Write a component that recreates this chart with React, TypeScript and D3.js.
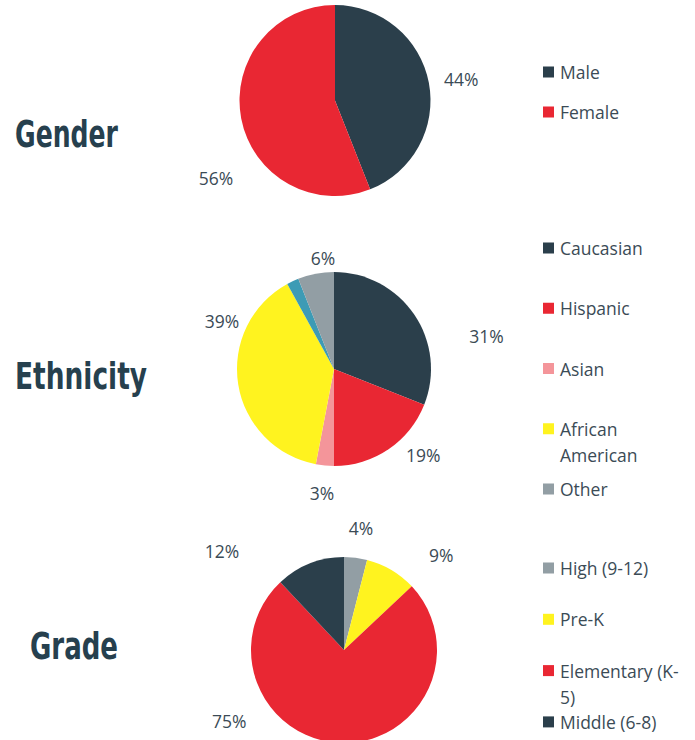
import React from "react";
import * as d3 from "d3";

const genderCategories = ["Male", "Female"];
const genderValues = [44, 56];

const ethnicityCategories = ["Caucasian", "Hispanic", "Asian", "African American", "", "Other"];
const ethnicityValues = [31, 19, 3, 39, 2, 6];

const gradeCategories = ["High (9-12)", "Pre-K", "Elementary (K-5)", "Middle (6-8)"];
const gradeValues = [4, 9, 75, 12];

const genderColors = ["#2b3f4b", "#e92733"];
const ethnicityColors = ["#2b3f4b", "#e92733", "#f4959a", "#fff31f", "#3d9bb5", "#929ea4"];
const gradeColors = ["#929ea4", "#fff31f", "#e92733", "#2b3f4b"];

const legendLines: Record<string, string[]> = {
  "African American": ["African", "American"],
  "Elementary (K-5)": ["Elementary (K-", "5)"],
};

// Data-label placement (best-fit style): polar angle in degrees from 12 o'clock, distance from centre
const genderLabelPolar = [[80.5, 128], [237, 142]];
const ethnicityLabelPolar = [[77.8, 156], [134, 124], [185.5, 125], [293.2, 122], null, [354.3, 111.5]];
const gradeLabelPolar = [[7.9, 123], [45.6, 136], [238.3, 135], [309, 157]];

type ChartCfg = {
  title: string;
  titleX: number;
  titleWidth: number;
  titleY: number;
  categories: string[];
  values: number[];
  colors: string[];
  labelPolar: (number[] | null)[];
  cx: number;
  cy: number;
  r: number;
  legendY0: number;
  legendStep: number;
};

const charts: ChartCfg[] = [
  { title: "Gender", titleX: 15, titleWidth: 103, titleY: 147, categories: genderCategories, values: genderValues, colors: genderColors, labelPolar: genderLabelPolar, cx: 335, cy: 100.5, r: 95.5, legendY0: 72, legendStep: 40 },
  { title: "Ethnicity", titleX: 15, titleWidth: 132, titleY: 389, categories: ethnicityCategories, values: ethnicityValues, colors: ethnicityColors, labelPolar: ethnicityLabelPolar, cx: 334, cy: 369, r: 97, legendY0: 248, legendStep: 60.25 },
  { title: "Grade", titleX: 30, titleWidth: 88, titleY: 659, categories: gradeCategories, values: gradeValues, colors: gradeColors, labelPolar: gradeLabelPolar, cx: 344, cy: 650, r: 93, legendY0: 568, legendStep: 51.3 },
];

const textColor = "#3b4b56";
const font = "'Open Sans', sans-serif";

function PieChart({ cfg }: { cfg: ChartCfg }) {
  const pie = d3.pie<number>().sort(null).value((d) => d)(cfg.values);
  const arc = d3.arc<d3.PieArcDatum<number>>().innerRadius(0).outerRadius(cfg.r);
  const legendItems = cfg.categories
    .map((c, i) => ({ c, i }))
    .filter((d) => d.c !== "");
  return (
    <g>
      <text
        x={cfg.titleX}
        y={cfg.titleY}
        fontFamily="'DejaVu Sans', sans-serif"
        fontWeight={700}
        fontSize={38}
        fill="#26404e"
        textLength={cfg.titleWidth}
        lengthAdjust="spacingAndGlyphs"
      >
        {cfg.title}
      </text>
      <g transform={`translate(${cfg.cx},${cfg.cy})`}>
        {pie.map((p, i) => (
          <path key={i} d={arc(p) || ""} fill={cfg.colors[i]} />
        ))}
        {pie.map((p, i) => {
          const lp = cfg.labelPolar[i];
          if (cfg.categories[i] === "" || !lp) return null;
          const a = (lp[0] * Math.PI) / 180;
          const x = Math.sin(a) * lp[1];
          const y = -Math.cos(a) * lp[1];
          return (
            <text
              key={"l" + i}
              x={x}
              y={y}
              textAnchor="middle"
              dominantBaseline="central"
              fontFamily={font}
              fontSize={17.5}
              fill={textColor}
            >
              {`${cfg.values[i]}%`}
            </text>
          );
        })}
      </g>
      {legendItems.map(({ c, i }, k) => {
        const y = cfg.legendY0 + k * cfg.legendStep;
        const lines = legendLines[c] || [c];
        return (
          <g key={"lg" + i}>
            <rect x={543} y={y - 5.5} width={11} height={11} fill={cfg.colors[i]} />
            {lines.map((ln, j) => (
              <text
                key={j}
                x={560}
                y={y + j * 26}
                dominantBaseline="central"
                fontFamily={font}
                fontSize={17.5}
                fill={textColor}
              >
                {ln}
              </text>
            ))}
          </g>
        );
      })}
    </g>
  );
}

export default function App() {
  return (
    <svg
      width={695}
      height={740}
      style={{ position: "absolute", left: 0, top: 0, display: "block", background: "#fff" }}
    >
      {charts.map((c) => (
        <PieChart key={c.title} cfg={c} />
      ))}
    </svg>
  );
}
